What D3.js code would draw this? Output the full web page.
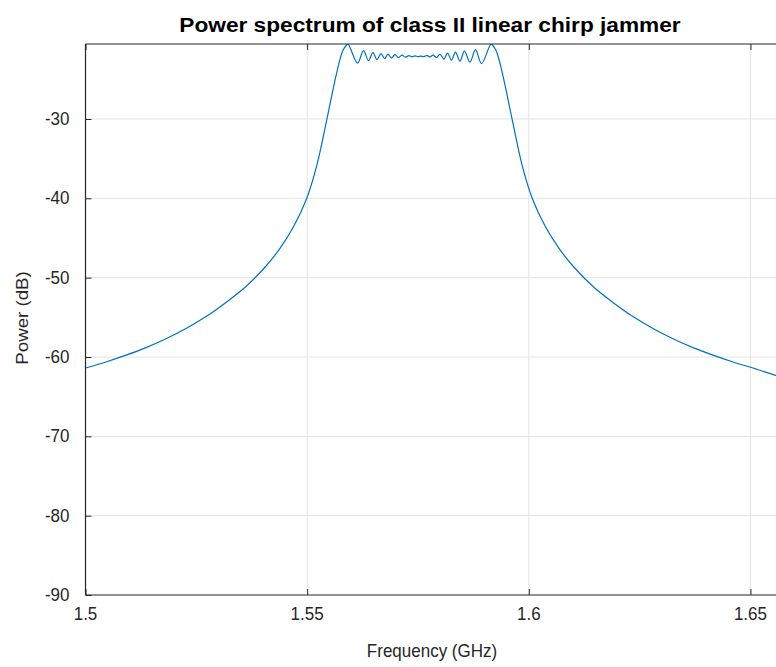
<!DOCTYPE html>
<html>
<head>
<meta charset="utf-8">
<script src="https://cdn.jsdelivr.net/npm/d3@7"></script>
<style>
  html, body { margin: 0; padding: 0; background: #fff; }
  svg { display: block; }
  text { font-family: "Liberation Sans", Arial, Helvetica, sans-serif; }
</style>
</head>
<body>
<svg id="chart" width="776" height="667"></svg>
<script>
// ---------- data ----------
const titleText = "Power spectrum of class II linear chirp jammer";
const xLabelText = "Frequency (GHz)";
const yLabelText = "Power (dB)";

const xTicks = [1.5, 1.55, 1.6, 1.65];
const xTickLabels = ["1.5", "1.55", "1.6", "1.65"];
const yTicks = [-90, -80, -70, -60, -50, -40, -30];
const yTickLabels = ["-90", "-80", "-70", "-60", "-50", "-40", "-30"];

// frequency (GHz)
const freq = [
  // lower skirt
  1.50000, 1.50462, 1.50914, 1.51365, 1.51816, 1.52267, 1.52718, 1.53169,
  1.53620, 1.54083, 1.54387, 1.54692, 1.54996, 1.55222, 1.55448,
  1.55628, 1.55741, 1.55808, 1.55876, 1.55921,
  // in-band ripple
  1.56136, 1.56271, 1.56384, 1.56485, 1.56575, 1.56666, 1.56745, 1.56824,
  1.56902, 1.56981, 1.57060, 1.57139, 1.57218, 1.57297, 1.57365, 1.57433,
  1.57500, 1.57568, 1.57636, 1.57703, 1.57771, 1.57839, 1.57918, 1.57997,
  1.58087, 1.58166, 1.58256, 1.58346, 1.58448, 1.58549, 1.58673, 1.58797,
  1.58933, 1.59147,
  // upper skirt
  1.59192, 1.59260, 1.59327, 1.59440, 1.59621, 1.59846, 1.60072, 1.60376,
  1.60681, 1.60985, 1.61448, 1.61899, 1.62350, 1.62801, 1.63252,
  1.63703, 1.64155, 1.64606, 1.65057, 1.65576, 1.65891
];
// power (dB)
const power = [
  -61.39, -60.63, -59.77, -58.82, -57.71, -56.42, -54.91, -53.12,
  -51.11, -48.47, -46.30, -43.58, -39.92, -35.76, -29.96,
  -25.12, -22.48, -21.34, -20.77, -20.58,
  -22.96, -21.38, -22.64, -21.63, -22.52, -21.76, -22.39, -21.82,
  -22.33, -21.89, -22.27, -21.95, -22.20, -22.01, -22.16, -22.05,
  -22.14, -22.08, -22.14, -21.99, -22.18, -21.95, -22.25, -21.85,
  -22.45, -21.70, -22.58, -21.57, -22.71, -21.45, -22.83, -21.26,
  -23.02, -20.58,
  -20.77, -21.34, -22.48, -25.12, -29.96, -35.76, -39.92, -43.58,
  -46.30, -48.47, -51.11, -53.12, -54.91, -56.42, -57.71,
  -58.82, -59.77, -60.63, -61.39, -62.33, -62.84
];

// ---------- chart ----------
const svg = d3.select("#chart");

const x = d3.scaleLinear().domain([1.5, 1.7]).range([85.5, 972.1]);
const y = d3.scaleLinear().domain([-90, -20.55]).range([595, 44]);

const plotLeft = x(1.5), plotTop = y(-20.55), plotBottom = y(-90);
const plotRight = x(1.7);

const axisColor = "#262626";
const gridColor = "#e3e3e3";

svg.append("defs").append("clipPath").attr("id", "plotclip")
  .append("rect").attr("x", plotLeft).attr("y", plotTop)
  .attr("width", plotRight - plotLeft).attr("height", plotBottom - plotTop);

// grid
const grid = svg.append("g");
grid.selectAll(".vg").data(xTicks.slice(1)).enter().append("line")
  .attr("x1", d => x(d)).attr("x2", d => x(d))
  .attr("y1", plotTop).attr("y2", plotBottom)
  .attr("stroke", gridColor).attr("stroke-width", 1);
grid.selectAll(".hg").data(yTicks.slice(1)).enter().append("line")
  .attr("x1", plotLeft).attr("x2", plotRight)
  .attr("y1", d => y(d)).attr("y2", d => y(d))
  .attr("stroke", gridColor).attr("stroke-width", 1);

// data line
const pts = freq.map((f, i) => [f, power[i]]);
const line = d3.line()
  .x(d => x(d[0])).y(d => y(d[1]))
  .curve(d3.curveCatmullRom.alpha(0.5));
svg.append("path")
  .datum(pts)
  .attr("clip-path", "url(#plotclip)")
  .attr("fill", "none")
  .attr("stroke", "#0072BD")
  .attr("stroke-width", 1.2)
  .attr("d", line);

// axes (inward ticks), via d3 axis generators
const tickLen = 6;
const xAxisB = d3.axisBottom(x).tickValues(xTicks).tickSize(-tickLen).tickFormat("");
const xAxisT = d3.axisTop(x).tickValues(xTicks).tickSize(-tickLen).tickFormat("");
const yAxisL = d3.axisLeft(y).tickValues(yTicks).tickSize(-tickLen).tickFormat("");

function styleAxis(g) {
  g.select(".domain").remove();
  g.selectAll(".tick line").attr("stroke", axisColor).attr("stroke-width", 1);
}
svg.append("g").attr("transform", `translate(0,${plotBottom})`).call(xAxisB).call(styleAxis);
svg.append("g").attr("transform", `translate(0,${plotTop})`).call(xAxisT).call(styleAxis);
svg.append("g").attr("transform", `translate(${plotLeft},0)`).call(yAxisL).call(styleAxis);

// frame lines (left, bottom, top)
svg.append("line").attr("x1", plotLeft).attr("x2", plotRight).attr("y1", plotBottom).attr("y2", plotBottom)
  .attr("stroke", axisColor).attr("stroke-width", 1.2);
svg.append("line").attr("x1", plotLeft).attr("x2", plotRight).attr("y1", plotTop).attr("y2", plotTop)
  .attr("stroke", axisColor).attr("stroke-width", 1.2);
svg.append("line").attr("x1", plotLeft).attr("x2", plotLeft).attr("y1", plotTop).attr("y2", plotBottom)
  .attr("stroke", axisColor).attr("stroke-width", 1.2);

// tick labels
const vs = 1.1; // vertical stretch of the text seen in the reference
svg.append("g").selectAll("text").data(xTicks).enter().append("text")
  .attr("transform", d => `translate(${x(d)},${plotBottom + 25}) scale(1,${vs})`)
  .attr("text-anchor", "middle")
  .attr("font-size", 17).attr("fill", axisColor)
  .text((d, i) => xTickLabels[i]);
svg.append("g").selectAll("text").data(yTicks).enter().append("text")
  .attr("transform", d => `translate(${plotLeft - 16},${y(d) + 6}) scale(1,${vs})`)
  .attr("text-anchor", "end")
  .attr("font-size", 17).attr("fill", axisColor)
  .text((d, i) => yTickLabels[i]);

// axis labels
svg.append("text")
  .attr("transform", `translate(432,${plotBottom + 62}) scale(1,${vs})`)
  .attr("text-anchor", "middle").attr("font-size", 17).attr("fill", axisColor)
  .text(xLabelText);
svg.append("text")
  .attr("transform", `translate(28,318) rotate(-90) scale(${vs},1)`)
  .attr("text-anchor", "middle").attr("font-size", 17).attr("fill", axisColor)
  .text(yLabelText);

// title
svg.append("text")
  .attr("transform", `translate(430,32) scale(1.08,1)`)
  .attr("text-anchor", "middle").attr("font-size", 21).attr("font-weight", "bold")
  .attr("fill", "#000")
  .text(titleText);
</script>
</body>
</html>
